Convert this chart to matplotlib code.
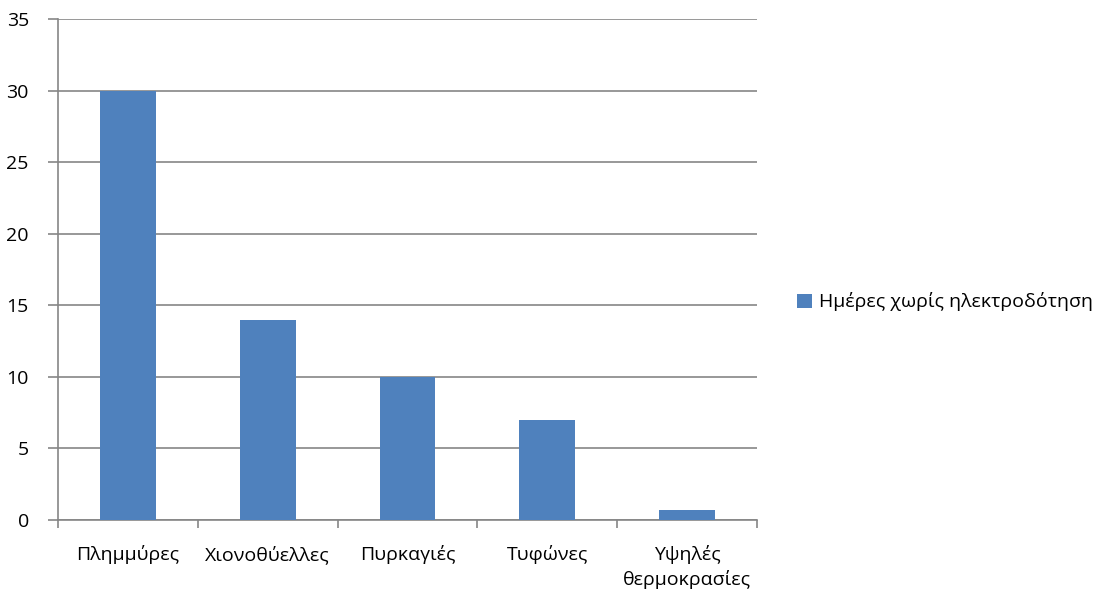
import matplotlib
matplotlib.use("Agg")
import matplotlib.pyplot as plt
from matplotlib.patches import Patch

plt.rcParams['font.family'] = ['Open Sans', 'DejaVu Sans']

categories = ["Πλημμύρες", "Χιονοθύελλες", "Πυρκαγιές", "Τυφώνες", "Υψηλές\nθερμοκρασίες"]
values = [30, 14, 10, 7, 0.7]
series_name = "Ημέρες χωρίς ηλεκτροδότηση"
y_ticks = [0, 5, 10, 15, 20, 25, 30, 35]

bar_color = "#4F81BD"
grid_color = "#868686"
fs = 14

fig = plt.figure(figsize=(11.09, 5.92), dpi=100)
ax = fig.add_axes([0.0523, 0.1216, 0.6303, 0.8463])

x = list(range(len(categories)))
ax.bar(x, values, width=0.4, color=bar_color, zorder=3)

ax.set_xlim(-0.5, len(categories) - 0.5)
ax.set_ylim(0, 35)
ax.set_yticks(y_ticks)
ax.set_yticklabels([str(t) for t in y_ticks], fontsize=fs)
ax.yaxis.grid(True, color=grid_color, linewidth=1.2, zorder=0)
ax.set_axisbelow(True)

# category labels centred under bars, tick marks between categories
ax.set_xticks([i - 0.5 for i in range(len(categories) + 1)])
ax.set_xticklabels([])
ax.set_xticks(x, minor=True)
ax.set_xticklabels(categories, minor=True, fontsize=fs, linespacing=1.4)
ax.tick_params(axis='x', which='minor', length=0, pad=18)
ax.tick_params(axis='x', which='major', length=6, width=1.2, color=grid_color, direction='out')
ax.tick_params(axis='y', length=7, width=1.2, color=grid_color, pad=14)

for side in ("top", "right"):
    ax.spines[side].set_visible(False)
for side in ("left", "bottom"):
    ax.spines[side].set_color(grid_color)
    ax.spines[side].set_linewidth(1.2)

handle = Patch(facecolor=bar_color, edgecolor='none')
fig.legend([handle], [series_name], loc='center left',
           bbox_to_anchor=(0.703, 0.49), frameon=False, fontsize=fs,
           handlelength=0.75, handleheight=0.75, handletextpad=0.35)

fig.savefig("out.png", dpi=100, facecolor="white")
